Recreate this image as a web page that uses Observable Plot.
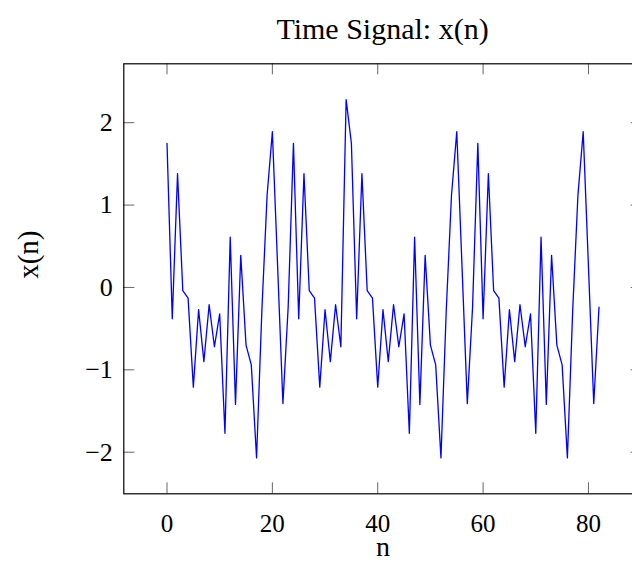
<!DOCTYPE html>
<html>
<head>
<meta charset="utf-8">
<script src="https://cdn.jsdelivr.net/npm/d3@7"></script>
<script src="https://cdn.jsdelivr.net/npm/@observablehq/plot@0.6"></script>
<style>
  html, body { margin: 0; padding: 0; background: #fff; }
  #wrap { width: 632px; height: 563px; overflow: hidden; position: relative; }
  #title { height: 50px; line-height: 58px; padding-left: 133px; text-align: center; overflow: visible;
           font-family: "Liberation Serif", "DejaVu Serif", serif; font-size: 30px; color: #000; white-space: nowrap; }
</style>
</head>
<body>
<div id="wrap">
  <div id="title"></div>
  <div id="chart"></div>
</div>
<script>
// Sample values x(n), n = 0 .. 82
const xValues = [
  1.75, -0.38, 1.38, -0.04, -0.13, -1.21, -0.27, -0.90, -0.21, -0.72,
  -0.32, -1.77, 0.61, -1.42, 0.39, -0.70, -0.94, -2.07, -0.29, 1.12,
  1.89, 0.25, -1.41, -0.24, 1.75, -0.38, 1.38, -0.04, -0.13, -1.21,
  -0.27, -0.90, -0.21, -0.72, 2.28, 1.75, -0.38, 1.38, -0.04, -0.13,
  -1.21, -0.27, -0.90, -0.21, -0.72, -0.32, -1.77, 0.61, -1.42, 0.39,
  -0.70, -0.94, -2.07, -0.29, 1.12, 1.89, 0.25, -1.41, -0.24, 1.75,
  -0.38, 1.38, -0.04, -0.13, -1.21, -0.27, -0.90, -0.21, -0.72, -0.32,
  -1.77, 0.61, -1.42, 0.39, -0.70, -0.94, -2.07, -0.29, 1.12, 1.89,
  0.25, -1.41, -0.24
];
const nValues = xValues.map((_, i) => i);
const xTicks = [0, 20, 40, 60, 80];
const yTicks = [-2, -1, 0, 1, 2];
const titleText = "Time Signal: x(n)";
const xLabel = "n";
const yLabel = "x(n)";

document.getElementById("title").textContent = titleText;

// pgfplots-style enlarged limits (10% of the data range on each side)
function enlarge([a, b]) { const d = (b - a) * 0.1; return [a - d, b + d]; }
const xDom = enlarge(d3.extent(nValues));
const yDom = enlarge(d3.extent(xValues));
const data = xValues.map((v, i) => ({n: nValues[i], v}));

const W = 642, H = 513, ML = 123.3, MR = 0.3, MT = 13.3, MB = 69.7;
const frameW = W - ML - MR, frameH = H - MT - MB, tickLen = 11;
const fmt = d => d < 0 ? "\u2212" + Math.abs(d) : String(d);
const tickColor = "#666";

const chart = Plot.plot({
  width: W,
  height: H,
  marginLeft: ML,
  marginRight: MR,
  marginTop: MT,
  marginBottom: MB,
  x: {domain: xDom},
  y: {domain: yDom},
  style: {fontFamily: "'Liberation Serif', 'DejaVu Serif', serif", fontSize: "26px", maxWidth: "none", color: "#000", background: "#fff"},
  marks: [
    Plot.line(data, {x: "n", y: "v", stroke: "#0000ff", strokeWidth: 1.3}),
    // inward ticks on all four sides
    Plot.tickX(xTicks, {x: d => d, insetTop: frameH - tickLen, stroke: tickColor, strokeWidth: 1}),
    Plot.tickX(xTicks, {x: d => d, insetBottom: frameH - tickLen, stroke: tickColor, strokeWidth: 1}),
    Plot.tickY(yTicks, {y: d => d, insetRight: frameW - tickLen, stroke: tickColor, strokeWidth: 1}),
    Plot.tickY(yTicks, {y: d => d, insetLeft: frameW - tickLen, stroke: tickColor, strokeWidth: 1}),
    // tick labels
    Plot.axisX(xTicks, {anchor: "bottom", tickSize: 0, tickPadding: 20, tickFormat: fmt, fill: "#000", fontSize: 25, label: null}),
    Plot.axisY(yTicks, {anchor: "left", tickSize: 0, tickPadding: 11, tickFormat: fmt, fill: "#000", fontSize: 26, label: null}),
    Plot.frame({stroke: "#000", strokeWidth: 1.2}),
    Plot.text([xLabel], {text: d => d, frameAnchor: "bottom", dy: 62, fontSize: 28, fill: "#000"}),
    Plot.text([yLabel], {text: d => d, frameAnchor: "left", dx: -95, rotate: -90, fontSize: 29, fill: "#000"})
  ]
});
document.getElementById("chart").appendChild(chart);
</script>
</body>
</html>
